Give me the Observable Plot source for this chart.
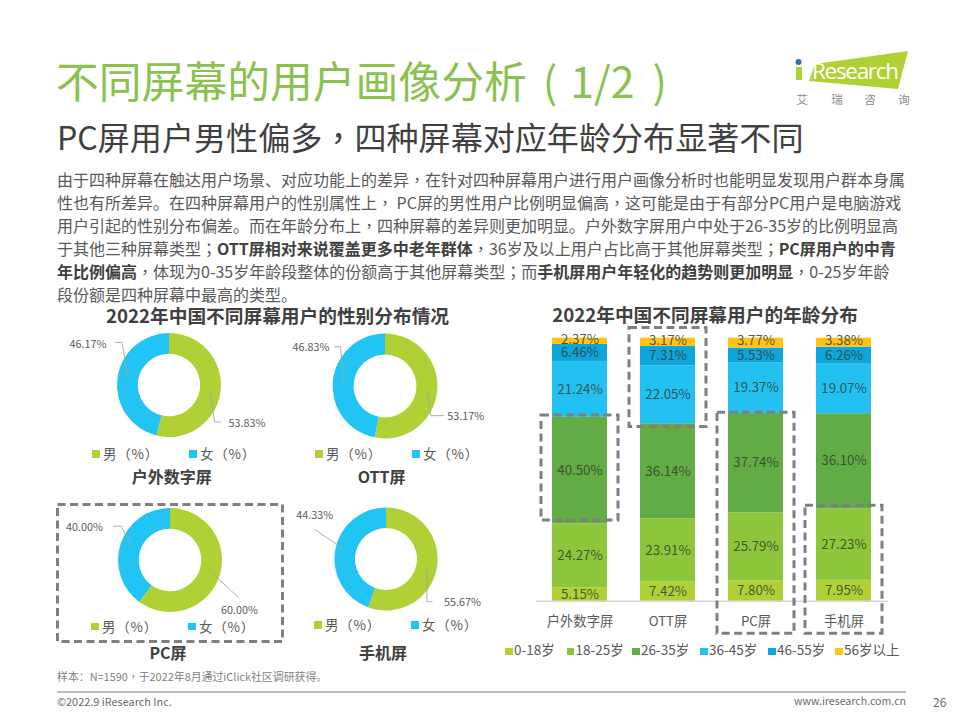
<!DOCTYPE html>
<html lang="zh-CN">
<head>
<meta charset="utf-8">
<script src="https://cdn.jsdelivr.net/npm/d3@7"></script>
<script src="https://cdn.jsdelivr.net/npm/@observablehq/plot@0.6"></script>
<style>
html,body{margin:0;padding:0;background:#fff;}
#page{position:relative;width:960px;height:720px;overflow:hidden;font-family:"Noto Sans CJK SC",sans-serif;color:#595959;}
.t{position:absolute;white-space:nowrap;line-height:1;}
#body{position:absolute;left:57px;top:168px;width:860px;font-size:16px;line-height:23px;white-space:nowrap;color:#595959;}
#body b{color:#404040;}
.sw{position:absolute;width:7.5px;height:7.5px;}
.p{font-family:"Noto Sans CJK TC",sans-serif;}
</style>
</head>
<body>
<div id="page"></div>
<script>
// ---- text ----
const pageTitle = "不同屏幕的用户画像分析";
const pageTitleTail = "1/2";
const pageSubtitle = "PC屏用户男性偏多，四种屏幕对应年龄分布显著不同";
const bodyLines = [
  "由于四种屏幕在触达用户场景、对应功能上的差异，在针对四种屏幕用户进行用户画像分析时也能明显发现用户群本身属",
  "性也有所差异。在四种屏幕用户的性别属性上， PC屏的男性用户比例明显偏高，这可能是由于有部分PC用户是电脑游戏",
  "用户引起的性别分布偏差。而在年龄分布上，四种屏幕的差异则更加明显。户外数字屏用户中处于26-35岁的比例明显高",
  "于其他三种屏幕类型；<b>OTT屏相对来说覆盖更多中老年群体</b>，36岁及以上用户占比高于其他屏幕类型；<b>PC屏用户的中青</b>",
  "<b>年比例偏高</b>，体现为0-35岁年龄段整体的份额高于其他屏幕类型；而<b>手机屏用户年轻化的趋势则更加明显</b>，0-25岁年龄",
  "段份额是四种屏幕中最高的类型。"
];
const genderTitle = "2022年中国不同屏幕用户的性别分布情况";
const ageTitle = "2022年中国不同屏幕用户的年龄分布";
const sampleNote = "样本：N=1590，于2022年8月通过iClick社区调研获得。";
const copyright = "©2022.9 iResearch Inc.";
const website = "www.iresearch.com.cn";
const pageNumber = "26";

// ---- data ----
const screens = ["户外数字屏", "OTT屏", "PC屏", "手机屏"];
const sexes = ["男（%）", "女（%）"];
const sexColors = ["#AFD136", "#22C4F3"];
const maleShare = [53.83, 53.17, 60.00, 55.67];
const femaleShare = [46.17, 46.83, 40.00, 44.33];

const ageGroups = ["0-18岁", "18-25岁", "26-35岁", "36-45岁", "46-55岁", "56岁以上"];
const ageColors = ["#AFD136", "#8DC63A", "#62AC45", "#22C1F1", "#0CA5DC", "#FFC316"];
const age0to18 = [5.15, 7.42, 7.80, 7.95];
const age18to25 = [24.27, 23.91, 25.79, 27.23];
const age26to35 = [40.50, 36.14, 37.74, 36.10];
const age36to45 = [21.24, 22.05, 19.37, 19.07];
const age46to55 = [6.46, 7.31, 5.53, 6.26];
const age56plus = [2.37, 3.17, 3.77, 3.38];
const ageSeries = [age0to18, age18to25, age26to35, age36to45, age46to55, age56plus];

// value ranges of the dashed highlight boxes on the age chart
const boxLow = [30.7, 66.2, -12.4, -12.4];
const boxHigh = [70.6, 103.9, 71.7, 36.3];

const page = document.getElementById("page");
const FONT = '"Noto Sans CJK SC",sans-serif';
const DARK = "#404040";
const GREY = "#7f7f7f";

const centred = s => s.replace(/[，；]/g, m => `<span class="p" lang="zh-Hant">${m}</span>`);

function put(text, x, y, size, color, opts = {}) {
  const el = document.createElement("div");
  el.className = "t";
  el.innerHTML = text;
  el.style.left = x + "px";
  el.style.top = (y - size / 2) + "px";
  el.style.fontSize = size + "px";
  el.style.color = color;
  if (opts.bold) el.style.fontWeight = "700";
  if (opts.spacing) el.style.letterSpacing = opts.spacing + "px";
  if (opts.center) el.style.transform = "translateX(-50%)";
  if (opts.right) el.style.transform = "translateX(-100%)";
  page.appendChild(el);
  return el;
}
function place(svg, left, top) {
  svg.style.position = "absolute";
  svg.style.left = left + "px";
  svg.style.top = top + "px";
  page.appendChild(svg);
}

// ---- headings ----
put(pageTitle + '<span style="margin-left:16px;margin-right:13px">(</span>' + pageTitleTail + '<span style="margin-left:18px">)</span>', 56, 79.5, 42.8, "#8CC152");
put(centred(pageSubtitle), 57, 136.5, 32.1, DARK);
const bodyEl = document.createElement("div");
bodyEl.id = "body";
bodyEl.innerHTML = bodyLines.map(centred).join("<br>");
page.appendChild(bodyEl);
put(genderTitle, 277.5, 315, 18.7, DARK, {bold: true, center: true});
put(ageTitle, 705, 314, 18.7, DARK, {bold: true, center: true});

// ---- logo ----
const logo = d3.create("svg").attr("width", 130).attr("height", 70)
  .style("position", "absolute").style("left", "790px").style("top", "45px");
logo.append("polygon").attr("points", "25,19 118,6 108,44 19,36").attr("fill", "#AFD136");
logo.append("circle").attr("cx", 8.5).attr("cy", 17).attr("r", 3).attr("fill", "#2F6FB5");
logo.append("rect").attr("x", 6).attr("y", 22).attr("width", 6).attr("height", 13).attr("fill", "#AFD136");
logo.append("text").attr("x", 22).attr("y", 33.5).attr("font-size", 22.5).attr("fill", "#fff")
  .attr("font-family", '"Open Sans",sans-serif').attr("textLength", 87).text("Research");
page.appendChild(logo.node());
[["艾", 802], ["瑞", 837], ["咨", 870], ["询", 904]].forEach(([c, x]) =>
  put(c, x, 100, 11.5, "#8a8a8a", {center: true}));

// ---- donut helper ----
function arcMark(inner, outer) {
  return (index, scales, values, dims) => {
    const g = d3.create("svg:g")
      .attr("transform", `translate(${dims.width / 2},${dims.height / 2})`);
    const arc = d3.arc().innerRadius(inner).outerRadius(outer);
    for (const i of index) {
      g.append("path")
        .attr("fill", values.fill[i])
        .attr("d", arc({startAngle: values.x1[i], endAngle: values.x2[i]}));
    }
    return g.node();
  };
}
function leaderMark(points) {
  return (index, scales, values, dims) => d3.create("svg:path")
    .attr("transform", `translate(${dims.width / 2},${dims.height / 2})`)
    .attr("fill", "none").attr("stroke", "#a6a6a6").attr("stroke-width", 0.9)
    .attr("d", d3.line()(points)).node();
}

const donutLayouts = [
  {cx: 169.3, cy: 384.7, r: 52, labelMale: [77.4, 37.6], labelFemale: [-81.6, -41.4],
   leadMale: [[51.7, 37], [45.7, 37], [40.7, 4.6]], leadFemale: [[-54.3, -42.7], [-47, -42.4], [-41, -8]],
   legendX: 92, legendY: 454, nameX: 171.7, nameY: 476},
  {cx: 384.5, cy: 386, r: 52.4, labelMale: [80.2, 30], labelFemale: [-74.5, -38.7],
   leadMale: [[59.5, 29.7], [45.5, 29.7], [42.2, 5.7]], leadFemale: [[-51.2, -39.3], [-44.5, -39.3], [-41.2, -4.3]],
   legendX: 315, legendY: 454, nameX: 381.7, nameY: 476},
  {cx: 170.3, cy: 559.5, r: 52, labelMale: [69, 50.5], labelFemale: [-86, -32.8],
   leadMale: [[68.7, 37.8], [39.7, 10.5]], leadFemale: [[-57, -33.8], [-48.6, -33.8], [-39.6, -14.5]],
   legendX: 91, legendY: 626.5, nameX: 168, nameY: 652},
  {cx: 385.8, cy: 559, r: 51.6, labelMale: [75.9, 43], labelFemale: [-71.8, -44],
   leadMale: [[46.5, 42.7], [40.9, 42.7], [40.9, 8.3]], leadFemale: [[-71.5, -29.7], [-40.8, -9]],
   legendX: 314, legendY: 625, nameX: 383, nameY: 652}
];

donutLayouts.forEach((d, k) => {
  const rows = [
    {sex: sexes[0], value: maleShare[k]},
    {sex: sexes[1], value: femaleShare[k]}
  ];
  const W = 240, H = 160;
  const svg = Plot.plot({
    width: W, height: H, margin: 0,
    style: {background: "transparent", fontFamily: FONT, overflow: "visible"},
    x: {domain: [0, 100], range: [0, 2 * Math.PI], axis: null},
    y: {axis: null},
    color: {domain: sexes, range: sexColors},
    marks: [
      Plot.barX(rows, Plot.stackX({x: "value", fill: "sex", render: arcMark(d.r * 0.6, d.r)})),
      leaderMark(d.leadMale),
      leaderMark(d.leadFemale),
      Plot.text([maleShare[k].toFixed(2) + "%"], {frameAnchor: "middle", dx: d.labelMale[0], dy: d.labelMale[1], fontSize: 10.8, fill: "#595959"}),
      Plot.text([femaleShare[k].toFixed(2) + "%"], {frameAnchor: "middle", dx: d.labelFemale[0], dy: d.labelFemale[1], fontSize: 10.8, fill: "#595959"})
    ]
  });
  place(svg, d.cx - W / 2, d.cy - H / 2);

  sexes.forEach((s, j) => {
    const x = d.legendX + j * 97;
    const sw = document.createElement("div");
    sw.className = "sw";
    sw.style.left = x + "px";
    sw.style.top = (d.legendY - 4) + "px";
    sw.style.background = sexColors[j];
    page.appendChild(sw);
    put(s, x + 11, d.legendY, 13.5, "#595959", {spacing: 0.8});
  });
  put(screens[k], d.nameX, d.nameY, 16, DARK, {bold: true, center: true});
});

// dashed box around the PC donut
place(Plot.plot({
  width: 229, height: 141, margin: 2,
  style: {background: "transparent"},
  x: {axis: null}, y: {axis: null},
  marks: [Plot.frame({stroke: GREY, strokeWidth: 3, strokeDasharray: "8 4.5"})]
}), 55, 501.5);

// ---- stacked bars ----
const ageRows = screens.flatMap((screen, i) =>
  ageGroups.map((age, j) => ({screen, age, value: ageSeries[j][i]})));
const boxRows = screens.map((screen, i) => ({screen, low: boxLow[i], high: boxHigh[i]}));
const topAge = ageGroups[ageGroups.length - 1];
const pct = d => d.value.toFixed(2) + "%";
const labelStyle = {fontSize: 13.3, fill: "#33402f", fillOpacity: 0.85};

const ageChart = Plot.plot({
  width: 420, height: 320,
  marginTop: 17.7, marginBottom: 39.3, marginLeft: 36, marginRight: 32,
  style: {background: "transparent", fontFamily: FONT, overflow: "visible"},
  x: {domain: screens, paddingInner: 0.372, paddingOuter: 0.186, label: null},
  y: {domain: [0, 100], axis: null},
  color: {domain: ageGroups, range: ageColors},
  marks: [
    Plot.barY(ageRows, Plot.stackY({x: "screen", y: "value", fill: "age", order: ageGroups})),
    Plot.text(ageRows, Plot.stackY({x: "screen", y: "value", z: "age", order: ageGroups,
      text: d => d.age === topAge ? null : pct(d), ...labelStyle})),
    Plot.text(ageRows, Plot.stackY({x: "screen", y: "value", z: "age", order: ageGroups,
      text: d => d.age === topAge ? pct(d) : null, dy: -2, ...labelStyle})),
    Plot.ruleY([0], {stroke: "#c4c4c4", strokeWidth: 1}),
    Plot.axisX({tickSize: 0, tickPadding: 15, fontSize: 13.3, fill: "#595959", label: null}),
    Plot.barY(boxRows, {x: "screen", y1: "low", y2: "high", insetLeft: -11, insetRight: -11,
      fill: "none", stroke: GREY, strokeWidth: 3, strokeDasharray: "8 4.5"})
  ]
});
place(ageChart, 500, 320);

// ---- age legend ----
const ageLegendX = [505, 566.5, 632, 700, 768, 835];
ageGroups.forEach((age, j) => {
  const sw = document.createElement("div");
  sw.className = "sw";
  sw.style.left = ageLegendX[j] + "px";
  sw.style.top = "647.5px";
  sw.style.background = ageColors[j];
  page.appendChild(sw);
  put(age, ageLegendX[j] + 9, 650, 13.5, "#595959");
});

// ---- footer ----
put(centred(sampleNote), 57, 676.5, 10.9, GREY);
const rule = document.createElement("div");
rule.style.cssText = "position:absolute;left:57px;top:691px;width:849px;height:1.5px;background:#bfbfbf";
page.appendChild(rule);
put(copyright, 57, 701.5, 10.9, "#6b6b6b");
put(website, 906, 701.5, 10.6, "#6b6b6b", {right: true});
put(pageNumber, 933, 701.5, 12, "#6b6b6b");
</script>
</body>
</html>
